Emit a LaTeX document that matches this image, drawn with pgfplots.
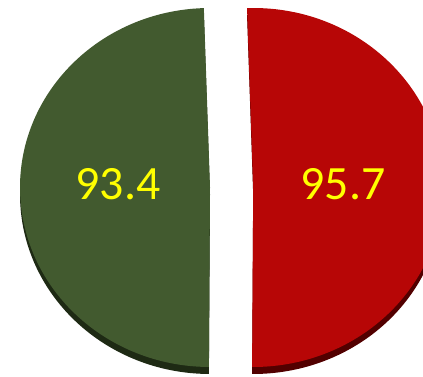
\documentclass[border=0pt]{standalone}
\usepackage{pgfplots}
\pgfplotsset{compat=1.18}
\usepackage{fontspec}
\setmainfont{Carlito}
\definecolor{pgreen}{HTML}{425A2F}
\definecolor{pred}{HTML}{B70606}
\definecolor{pgreenD}{HTML}{1E2A14}
\definecolor{predD}{HTML}{520000}
\definecolor{lblyellow}{HTML}{FFFF00}
\begin{document}
\begin{tikzpicture}
% data values
\pgfmathsetmacro{\va}{93.4}
\pgfmathsetmacro{\vb}{95.7}
\pgfmathsetmacro{\angA}{360*(\va/(\va+\vb))}
\pgfmathsetmacro{\angB}{360*(\vb/(\va+\vb))}
\pgfmathsetmacro{\st}{91.86}
\pgfmathsetmacro{\enA}{\st+\angA}
\pgfmathsetmacro{\enB}{\st-\angB}
\def\rx{190}
\def\ry{179.5}
\def\cy{189.5}
\def\gx{210}
\def\rxc{253.2}
\def\th{7}
\begin{axis}[width=423bp,height=377bp,scale only axis,
  xmin=0,xmax=423,ymin=0,ymax=377,axis lines=none,clip=true]
% side (shadow) walls
\fill[pgreenD] (axis cs:\gx,{\cy-\th}) -- (axis cs:{\gx+\rx*cos(\st)},{\cy-\th+\ry*sin(\st)})
  arc[start angle=\st,end angle=\enA,x radius=\rx bp,y radius=\ry bp] -- cycle;
\fill[predD] (axis cs:\rxc,{\cy-\th}) -- (axis cs:{\rxc+\rx*cos(\st)},{\cy-\th+\ry*sin(\st)})
  arc[start angle=\st,end angle=\enB,x radius=\rx bp,y radius=\ry bp] -- cycle;
% top faces
\fill[pgreen] (axis cs:\gx,\cy) -- (axis cs:{\gx+\rx*cos(\st)},{\cy+\ry*sin(\st)})
  arc[start angle=\st,end angle=\enA,x radius=\rx bp,y radius=\ry bp] -- cycle;
\fill[pred] (axis cs:\rxc,\cy) -- (axis cs:{\rxc+\rx*cos(\st)},{\cy+\ry*sin(\st)})
  arc[start angle=\st,end angle=\enB,x radius=\rx bp,y radius=\ry bp] -- cycle;
% labels
\node[text=lblyellow,font=\fontsize{48}{48}\selectfont,inner sep=0pt] at (axis cs:118,193) {93.4};
\node[text=lblyellow,font=\fontsize{48}{48}\selectfont,inner sep=0pt] at (axis cs:343,193) {95.7};
\end{axis}
\pgfresetboundingbox
\useasboundingbox (current axis.south west) rectangle (current axis.north east);
\end{tikzpicture}
\end{document}
